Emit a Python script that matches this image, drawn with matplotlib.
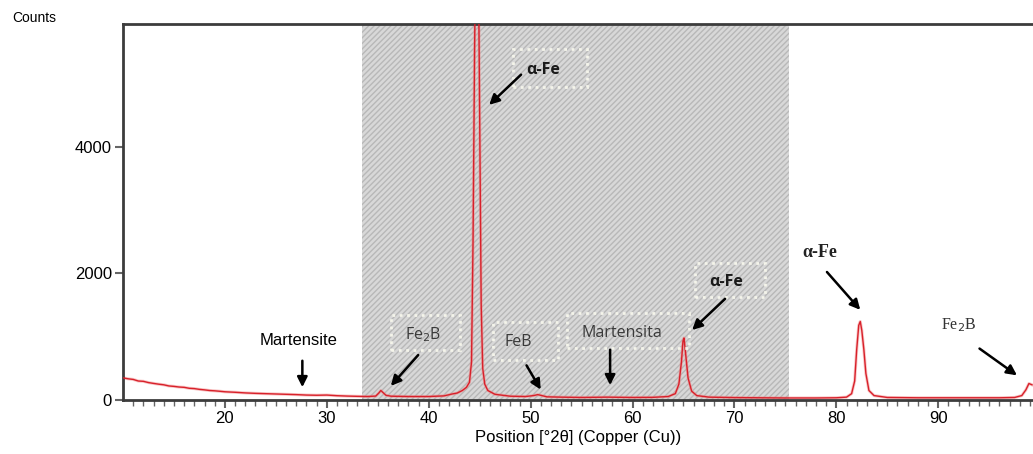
import numpy as np
import matplotlib
matplotlib.use('Agg')
import matplotlib.pyplot as plt
from matplotlib.patches import Rectangle

# XRD pattern (2theta, counts)
two_theta = [10, 10.5, 11, 11.5, 12, 12.5, 13, 13.5, 14, 14.5, 15, 15.5, 16, 16.5, 17, 17.5, 18, 18.5, 19,
             19.5, 20, 21, 22, 23, 24, 25, 26, 27, 28, 29, 30, 31, 32, 33, 34, 34.8, 35.1, 35.3, 35.5,
             35.8, 36.3, 38, 40, 41.5, 42.3, 42.8, 43.3, 43.7, 44.0, 44.2, 44.35, 44.5, 44.6, 44.75,
             44.9, 45.0, 45.15, 45.3, 45.5, 45.8, 46.5, 48, 49.5, 50.3, 50.7, 51.1, 51.6, 53, 55, 57.5,
             60, 62, 63.5, 64.2, 64.55, 64.8, 64.95, 65.05, 65.2, 65.45, 65.8, 66.3, 67.5, 70, 75, 78,
             80, 81.0, 81.5, 81.8, 82.0, 82.2, 82.35, 82.5, 82.7, 82.9, 83.2, 83.7, 85, 88, 92, 96,
             97.5, 98.2, 98.6, 98.9, 99.2]
counts = [350, 335, 325, 300, 295, 275, 262, 250, 240, 222, 215, 205, 200, 185, 180, 168, 160, 150, 145,
          138, 130, 122, 112, 105, 100, 95, 90, 85, 78, 75, 78, 68, 62, 58, 55, 62, 110, 150, 120,
          75, 60, 55, 55, 65, 95, 110, 150, 200, 280, 600, 2500, 5500, 7000, 7500,
          6500, 4500, 1500, 500, 250, 150, 90, 60, 55, 70, 85, 70, 50, 45, 40, 45,
          40, 42, 55, 100, 250, 600, 930, 980, 750, 350, 140, 70, 45, 38, 32, 32,
          35, 45, 100, 300, 800, 1180, 1240, 1100, 800, 420, 150, 70, 40, 35, 35, 35,
          40, 70, 160, 260, 240]

# shaded region (2theta)
shade_from = 33.5
shade_to = 75.4

# annotations: label, text position, arrow tail, arrow tip
ann_labels = ['Martensite', 'Fe$_2$B', 'α-Fe', 'FeB', 'Martensita', 'α-Fe', 'α-Fe', 'Fe$_2$B']
ann_text = [(27.2, 933), (39.5, 1028), (51.2, 5217), (48.8, 917), (59.0, 1059), (69.2, 1866),
            (78.4, 2324), (92.0, 1186)]
ann_tail = [(27.6, 664), (39.15, 743), (49.26, 5170), (49.46, 585), (57.8, 838), (69.28, 1628),
            (78.9, 2055), (93.83, 838)]
ann_tip = [(27.6, 158), (36.1, 190), (45.73, 4632), (51.13, 126), (57.8, 190), (65.65, 1075),
           (82.53, 1391), (97.95, 364)]
label_styles = ['arial', 'calibri', 'calibri_bold', 'calibri', 'calibri', 'calibri_bold', 'serif_bold', 'serif']

# dotted boxes around some labels: (x0, y0, width, height) in data units
boxes = [(36.3, 790, 6.8, 554), (48.3, 4950, 7.26, 600), (46.3, 632, 6.4, 600),
         (53.6, 822, 11.9, 553), (66.1, 1628, 6.9, 538)]

fig = plt.figure(figsize=(10.33, 4.54), dpi=100)
ax = fig.add_axes([123 / 1033, 54 / 454, 910 / 1033, 376 / 454])

ax.axvspan(shade_from, shade_to, facecolor='#d8d8d8', edgecolor='#b8b8b8', hatch='//////',
           linewidth=0, zorder=0)

ax.plot(two_theta, counts, color='#f08080', linewidth=2.2, alpha=0.45, zorder=2)
ax.plot(two_theta, counts, color='#d8202a', linewidth=1.0, zorder=3)

for (x0, y0, w, h) in boxes:
    ax.add_patch(Rectangle((x0, y0), w, h, fill=False, edgecolor='#f4f4ea', linestyle=':',
                           linewidth=2.0, zorder=4))

fonts = {
    'arial': dict(family='Liberation Sans', fontsize=12, color='black'),
    'calibri': dict(family='Open Sans', fontsize=11.5, color='#3a3a3a'),
    'calibri_bold': dict(family='Open Sans', fontsize=11.5, color='#1a1a1a', fontweight='bold'),
    'serif_bold': dict(family='Liberation Serif', fontsize=13, color='#222222', fontweight='bold'),
    'serif': dict(family='Liberation Serif', fontsize=11.5, color='#333333'),
}
for lab, txt, tail, tip, st in zip(ann_labels, ann_text, ann_tail, ann_tip, label_styles):
    ax.text(txt[0], txt[1], lab, ha='center', va='center', zorder=5, **fonts[st])
    ax.annotate('', xy=tip, xytext=tail,
                arrowprops=dict(arrowstyle='-|>,head_length=0.6,head_width=0.3', color='black', lw=1.8),
                zorder=5)

ax.set_xlim(10, 99.3)
ax.set_ylim(0, 5940)
ax.set_xticks([20, 30, 40, 50, 60, 70, 80, 90])
ax.set_xticks(np.arange(11, 100, 1), minor=True)
ax.set_yticks([0, 2000, 4000])
ax.tick_params(axis='both', which='major', direction='out', length=6, width=1.5, color='#666666',
               labelsize=12, pad=2)
ax.tick_params(axis='x', which='minor', direction='out', length=4, width=1.0, color='#666666')
for lab in ax.get_xticklabels() + ax.get_yticklabels():
    lab.set_family('Liberation Sans')

for side in ['left', 'top', 'bottom']:
    ax.spines[side].set_linewidth(2)
    ax.spines[side].set_color('#3c3c3c')
ax.spines['right'].set_visible(False)

ax.set_xlabel('Position [°2θ] (Copper (Cu))', fontsize=12, family='Liberation Sans', labelpad=3)
fig.text(12 / 1033, 1 - 18 / 454, 'Counts', fontsize=10, family='Liberation Sans', va='center')

fig.savefig('out.png', dpi=100)
